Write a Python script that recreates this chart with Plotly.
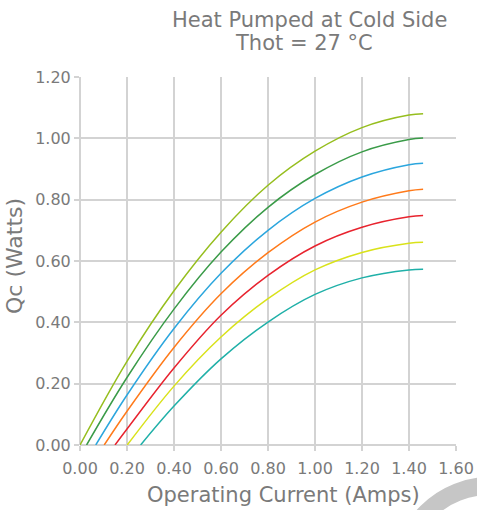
import plotly.graph_objects as go

# ---- data ----
currents = [0.2, 0.4, 0.6, 0.8, 1.0, 1.2, 1.4, 1.46]
start_currents = [0.0, 0.028, 0.067, 0.103, 0.149, 0.201, 0.258]

s1 = [0.273, 0.503, 0.694, 0.847, 0.958, 1.035, 1.076, 1.080]
s2 = [0.220, 0.443, 0.629, 0.775, 0.882, 0.956, 0.996, 1.001]
s3 = [0.163, 0.380, 0.560, 0.700, 0.804, 0.874, 0.914, 0.919]
s4 = [0.110, 0.318, 0.493, 0.627, 0.727, 0.792, 0.829, 0.834]
s5 = [0.052, 0.251, 0.423, 0.553, 0.649, 0.710, 0.744, 0.748]
s6 = [None, 0.192, 0.352, 0.477, 0.571, 0.628, 0.658, 0.661]
s7 = [None, 0.127, 0.281, 0.401, 0.491, 0.545, 0.571, 0.573]

series = [s1, s2, s3, s4, s5, s6, s7]
colors = ["#96be1e", "#3a9b48", "#2ba6de", "#ff7a1a", "#e8232e", "#d9e21a", "#1fb0a8"]

x_ticks = [0.0, 0.2, 0.4, 0.6, 0.8, 1.0, 1.2, 1.4, 1.6]
y_ticks = [0.0, 0.2, 0.4, 0.6, 0.8, 1.0, 1.2]

title_line1 = "Heat Pumped at Cold Side"
title_line2 = "Thot = 27 °C"
x_title = "Operating Current (Amps)"
y_title = "Qc (Watts)"

GREY = "#7a7a7a"
GRID = "#d3d3d3"
FONT = "DejaVu Sans"

fig = go.Figure()
for vals, start, col in zip(series, start_currents, colors):
    xs = [start]
    ys = [0.0]
    for c, v in zip(currents, vals):
        if v is None or c <= start:
            continue
        xs.append(c)
        ys.append(v)
    fig.add_trace(go.Scatter(x=xs, y=ys, mode="lines",
                             line=dict(color=col, width=1.5, shape="spline", smoothing=1.0),
                             showlegend=False, hoverinfo="skip"))

W, H = 477, 510
L, R, T, B = 80, 21, 77, 65
pw, ph = W - L - R, H - T - B

def px_to_paper_x(px):
    return (px - L) / pw

def py_to_paper_y(py):
    return (H - B - py) / ph

axis_common = dict(
    showgrid=True, gridcolor=GRID, gridwidth=1.5,
    ticks="outside", ticklen=5, tickcolor=GRID, tickwidth=1.5,
    showline=False, zeroline=True, zerolinecolor=GRID, zerolinewidth=1.5,
    tickformat=".2f", tickfont=dict(size=16, color=GREY, family=FONT), fixedrange=True,
    automargin=False,
)

fig.update_layout(
    width=W, height=H, autosize=False,
    margin=dict(l=L, r=R, t=T, b=B, autoexpand=False),
    paper_bgcolor="white", plot_bgcolor="white",
    font=dict(family=FONT, color=GREY, size=16),
    xaxis=dict(range=[0, 1.6], tickvals=x_ticks, ticklabelstandoff=4, **axis_common),
    yaxis=dict(range=[0, 1.2], tickvals=y_ticks, **axis_common),
    annotations=[
        dict(text=title_line1, xref="paper", yref="paper", x=px_to_paper_x(309), y=py_to_paper_y(20),
             xanchor="center", yanchor="middle", showarrow=False,
             font=dict(family=FONT, size=21, color=GREY)),
        dict(text=title_line2, xref="paper", yref="paper", x=px_to_paper_x(304), y=py_to_paper_y(43),
             xanchor="center", yanchor="middle", showarrow=False,
             font=dict(family=FONT, size=21, color=GREY)),
        dict(text=x_title, xref="paper", yref="paper", x=px_to_paper_x(283), y=py_to_paper_y(495),
             xanchor="center", yanchor="middle", showarrow=False,
             font=dict(family=FONT, size=21, color=GREY)),
        dict(text=y_title, xref="paper", yref="paper", x=px_to_paper_x(14), y=py_to_paper_y(256),
             xanchor="center", yanchor="middle", showarrow=False, textangle=-90,
             font=dict(family=FONT, size=22, color=GREY)),
    ],
    shapes=[
        dict(type="circle", xref="paper", yref="paper",
             x0=px_to_paper_x(401), x1=px_to_paper_x(579),
             y0=py_to_paper_y(664), y1=py_to_paper_y(486),
             line=dict(color="#c6c6c6", width=18), layer="above"),
    ],
)

fig.write_html("out.html", config={"displayModeBar": False},
               post_script="document.body.style.margin='0';document.body.style.overflow='hidden';")
